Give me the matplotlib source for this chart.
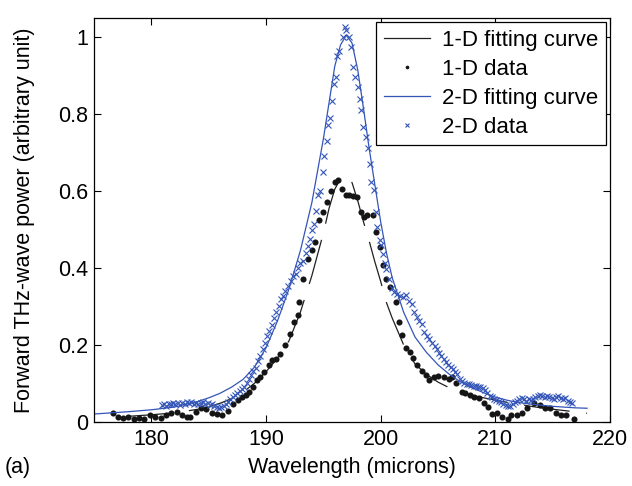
import matplotlib
matplotlib.use("Agg")
import matplotlib.pyplot as plt
import numpy as np

# ---- 1-D fitting curve ----
fit1_x = [176.7, 178, 180, 182, 184, 185, 186, 187, 188, 189, 190, 191, 192, 193, 194,
          195, 195.5, 196, 196.5, 197, 197.5, 198, 198.5, 199, 199.5, 200, 200.5, 201,
          202, 203, 204, 205, 206, 207, 208, 209, 210, 212, 214, 216, 218]
fit1_y = [0.012, 0.014, 0.018, 0.023, 0.032, 0.038, 0.048, 0.060, 0.077, 0.100, 0.130,
          0.165, 0.210, 0.285, 0.380, 0.490, 0.555, 0.605, 0.632, 0.640, 0.622, 0.575,
          0.520, 0.470, 0.415, 0.365, 0.310, 0.270, 0.200, 0.150, 0.123, 0.103, 0.088,
          0.077, 0.069, 0.062, 0.056, 0.045, 0.036, 0.029, 0.022]

# ---- 1-D data ----
d1_x = [176.67, 177.05, 177.5, 177.98, 178.45, 178.9, 179.4, 179.85, 180.3, 180.8, 181.25,
        181.7, 182.2, 182.65, 183.1, 183.4, 183.9, 184.35, 184.8, 185.3, 185.75, 186.2,
        186.7, 187.15, 187.6, 187.9, 188.25, 188.55, 188.85, 189.2, 189.5, 189.8, 190.25,
        190.55, 190.9, 191.2, 191.65, 192.1, 192.45, 192.75, 192.9, 193.2, 193.7, 194.0,
        194.3, 194.6, 195.0, 195.3, 195.7, 196.0, 196.3, 196.6, 196.95, 197.25, 197.55,
        197.9, 198.25, 198.55, 198.85, 199.3, 199.6, 199.9, 200.2, 200.5, 200.8, 201.3,
        201.6, 201.9, 202.2, 202.55, 202.85, 203.15, 203.6, 203.95, 204.25, 204.65, 205.0,
        205.5, 205.95, 206.25, 206.6, 207.05, 207.35, 207.8, 208.15, 208.6, 209.05, 209.4,
        209.7, 210.15, 210.6, 211.1, 211.4, 211.85, 212.3, 212.8, 213.4, 213.9, 214.35,
        214.8, 215.3, 215.75, 216.2, 216.85]
d1_y = [0.022, 0.013, 0.009, 0.011, 0.007, 0.009, 0.006, 0.017, 0.013, 0.009, 0.017,
        0.022, 0.026, 0.017, 0.013, 0.013, 0.026, 0.035, 0.032, 0.022, 0.020, 0.017,
        0.029, 0.045, 0.056, 0.063, 0.069, 0.078, 0.091, 0.108, 0.117, 0.130, 0.147,
        0.160, 0.162, 0.177, 0.199, 0.229, 0.260, 0.277, 0.312, 0.370, 0.424, 0.446,
        0.468, 0.524, 0.545, 0.571, 0.600, 0.623, 0.628, 0.606, 0.589, 0.589, 0.586,
        0.584, 0.545, 0.532, 0.537, 0.537, 0.494, 0.455, 0.407, 0.372, 0.351, 0.312,
        0.260, 0.225, 0.192, 0.182, 0.165, 0.147, 0.132, 0.121, 0.108, 0.117, 0.119,
        0.117, 0.110, 0.115, 0.101, 0.078, 0.074, 0.069, 0.065, 0.061, 0.049, 0.039,
        0.020, 0.022, 0.013, 0.006, 0.017, 0.017, 0.022, 0.035, 0.048, 0.043, 0.035,
        0.035, 0.022, 0.017, 0.017, 0.006]

# ---- 2-D fitting curve ----
fit2_x = [175.0, 176, 178, 180, 182, 184, 185, 186, 187, 188, 189, 190, 191, 192, 193,
          194, 195, 195.5, 196, 196.5, 197, 197.5, 198, 198.5, 199, 199.5, 200, 200.5,
          201, 202, 203, 204, 205, 206, 207, 208, 209, 210, 211, 212, 213, 214, 215,
          216, 217, 218]
fit2_y = [0.020, 0.022, 0.026, 0.031, 0.038, 0.052, 0.062, 0.074, 0.090, 0.110, 0.142,
          0.192, 0.262, 0.345, 0.445, 0.570, 0.735, 0.830, 0.925, 0.980, 1.005, 0.985,
          0.915, 0.815, 0.710, 0.615, 0.520, 0.440, 0.375, 0.285, 0.220, 0.180, 0.148,
          0.123, 0.103, 0.088, 0.075, 0.064, 0.056, 0.050, 0.046, 0.043, 0.040, 0.038,
          0.036, 0.035]

# ---- 2-D data ----
d2_x = [180.9, 181.1, 181.3, 181.5, 181.7, 181.9, 182.1, 182.3, 182.5, 182.7, 182.9,
        183.1, 183.3, 183.5, 183.7, 183.9, 184.1, 184.3, 184.5, 184.7, 184.9, 185.1,
        185.3, 185.5, 185.7, 185.9, 186.1, 186.3, 186.5, 186.7, 186.9, 187.1, 187.3,
        187.5, 187.7, 187.9, 188.1, 188.3, 188.5, 188.7, 188.9, 189.1, 189.3, 189.5,
        189.7, 189.9, 190.1, 190.3, 190.5, 190.7, 190.9, 191.1, 191.3, 191.5, 191.7,
        191.9, 192.15, 192.35, 192.6, 192.8, 193.0, 193.2, 193.5, 193.7, 193.85, 194.05,
        194.2, 194.4, 194.55, 194.75, 195.0, 195.1, 195.3, 195.45, 195.6, 195.75, 195.95,
        196.1, 196.2, 196.4, 196.7, 196.85, 196.95, 197.2, 197.4, 197.6, 197.8, 198.0,
        198.2, 198.3, 198.5, 198.7, 198.9, 199.05, 199.2, 199.4, 199.55, 199.7, 199.9,
        200.05, 200.2, 200.35, 200.5, 200.7, 200.95, 201.2, 201.45, 201.7, 201.95, 202.2,
        202.45, 202.7, 202.95, 203.15, 203.35, 203.6, 203.8, 204.0, 204.2, 204.45, 204.7,
        204.9, 205.1, 205.3, 205.5, 205.7, 205.9, 206.1, 206.3, 206.5, 206.7, 206.9,
        207.1, 207.3, 207.5, 207.7, 207.9, 208.1, 208.3, 208.5, 208.7, 208.9, 209.1,
        209.3, 209.5, 209.7, 209.9, 210.1, 210.3, 210.5, 210.7, 210.9, 211.1, 211.3,
        211.5, 211.7, 211.9, 212.1, 212.3, 212.5, 212.7, 212.9, 213.1, 213.3, 213.5,
        213.7, 213.9, 214.1, 214.3, 214.5, 214.7, 214.9, 215.1, 215.3, 215.5, 215.7,
        215.9, 216.1, 216.3, 216.5, 216.7]
d2_y = [0.043, 0.046, 0.042, 0.047, 0.045, 0.049, 0.046, 0.048, 0.044, 0.049, 0.047,
        0.051, 0.048, 0.050, 0.046, 0.049, 0.045, 0.048, 0.050, 0.046, 0.048, 0.044,
        0.047, 0.042, 0.039, 0.036, 0.037, 0.040, 0.046, 0.052, 0.058, 0.064, 0.070,
        0.075, 0.080, 0.085, 0.091, 0.100, 0.110, 0.122, 0.132, 0.140, 0.158, 0.172,
        0.190, 0.205, 0.222, 0.236, 0.252, 0.270, 0.285, 0.300, 0.318, 0.328, 0.340,
        0.352, 0.366, 0.378, 0.383, 0.400, 0.412, 0.418, 0.440, 0.458, 0.475, 0.498,
        0.515, 0.548, 0.590, 0.600, 0.650, 0.692, 0.730, 0.772, 0.790, 0.835, 0.878,
        0.897, 0.950, 0.965, 1.000, 1.026, 1.018, 1.000, 0.975, 0.922, 0.897, 0.870,
        0.840, 0.810, 0.766, 0.740, 0.713, 0.671, 0.623, 0.602, 0.545, 0.506, 0.472,
        0.459, 0.437, 0.414, 0.398, 0.372, 0.348, 0.337, 0.331, 0.328, 0.324, 0.330,
        0.315, 0.306, 0.285, 0.272, 0.262, 0.255, 0.234, 0.222, 0.214, 0.205, 0.198,
        0.190, 0.178, 0.170, 0.162, 0.155, 0.148, 0.142, 0.136, 0.130, 0.124, 0.112,
        0.106, 0.101, 0.099, 0.097, 0.095, 0.094, 0.092, 0.091, 0.090, 0.088, 0.083,
        0.074, 0.068, 0.063, 0.060, 0.056, 0.054, 0.051, 0.047, 0.043, 0.040, 0.042,
        0.046, 0.051, 0.055, 0.058, 0.061, 0.058, 0.055, 0.060, 0.057, 0.058, 0.064,
        0.067, 0.070, 0.066, 0.063, 0.068, 0.064, 0.062, 0.060, 0.064, 0.066, 0.061,
        0.059, 0.062, 0.055, 0.051, 0.048]

x_ticks = [180, 190, 200, 210, 220]
y_ticks = [0, 0.2, 0.4, 0.6, 0.8, 1]
y_tick_labels = ["0", "0.2", "0.4", "0.6", "0.8", "1"]

plt.rcParams['font.family'] = ['Liberation Sans', 'DejaVu Sans']
plt.rcParams['lines.scale_dashes'] = False
FS = 15.5
blue = '#3355b8'
DASH_ON, DASH_OFF = 33.0, 12.0

fig = plt.figure(figsize=(6.32, 4.86), dpi=100)
ax = fig.add_axes([94/632, 1 - 421.7/486, 516/632, 403.7/486])
ax.set_xlim(175, 220)
ax.set_ylim(0, 1.05)

# place a dash gap over the peak of the 1-D fit (as in the reference rendering)
pts = ax.transData.transform(np.column_stack([fit1_x, fit1_y]))
seg = np.hypot(np.diff(pts[:, 0]), np.diff(pts[:, 1])) * 72.0 / fig.dpi
cum = np.concatenate([[0], np.cumsum(seg)])
ipk = int(np.argmax(fit1_y))
L_peak = cum[ipk]
period = DASH_ON + DASH_OFF
offset = (DASH_ON + DASH_OFF / 2 - L_peak) % period

ax.plot(fit1_x, fit1_y, color='#202020', lw=0.9, label='1-D fitting curve',
        linestyle=(offset, (DASH_ON, DASH_OFF)))
ax.plot(d1_x, d1_y, ls='none', marker='o', ms=4.4, color='#151515',
        markeredgewidth=0, label='1-D data')
ax.plot(fit2_x, fit2_y, color=blue, lw=0.9, label='2-D fitting curve')
ax.plot(d2_x, d2_y, ls='none', marker='x', ms=5, mew=0.8, color=blue,
        label='2-D data')

ax.set_xticks(x_ticks)
ax.set_yticks(y_ticks)
ax.set_yticklabels(y_tick_labels)
ax.tick_params(direction='in', top=True, right=True, length=5, width=0.8,
               labelsize=FS)
ax.tick_params(axis='y', pad=4)
ax.tick_params(axis='x', pad=5)
for s in ax.spines.values():
    s.set_linewidth(0.9)

ax.set_xlabel('Wavelength (microns)', fontsize=FS, labelpad=5)
ax.set_ylabel('Forward THz-wave power (arbitrary unit)', fontsize=FS, labelpad=17)
fig.text(5/632, 1 - 467/486, '(a)', fontsize=FS, va='center', ha='left')

leg = ax.legend(loc='upper right', fontsize=16, frameon=True, fancybox=False,
                edgecolor='black', framealpha=1, handlelength=2.1,
                handletextpad=0.5, borderaxespad=0.2, labelspacing=0.35,
                borderpad=0.35, markerscale=0.6)
leg.get_frame().set_linewidth(0.9)
# legend handle for the fit line drawn solid
leg.get_lines()[0].set_linestyle('-')

fig.savefig('out.png', dpi=100)
